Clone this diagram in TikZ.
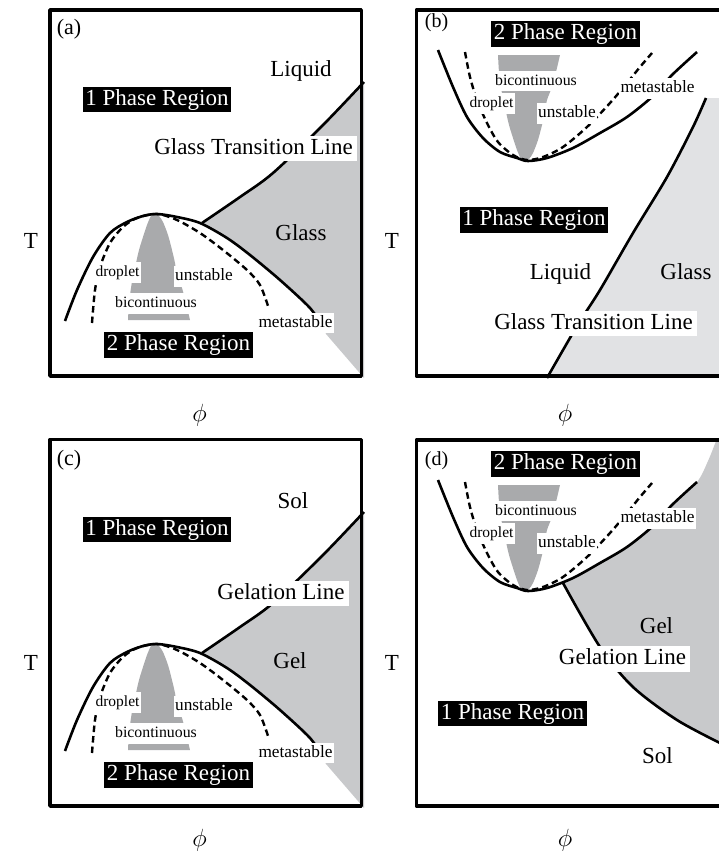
\documentclass[tikz,border=0pt]{standalone}
\usepackage{fontspec}
\setmainfont{Liberation Serif}
\newcommand{\setfs}[1]{\fontsize{#1}{#1}\selectfont}
\definecolor{glassgray}{HTML}{C8C9CB}
\definecolor{lightglass}{HTML}{E1E2E4}
\definecolor{bulletgray}{HTML}{A9AAAC}
\tikzset{
  frame/.style={line width=3.6pt, line join=round},
  curve/.style={line width=2.6pt},
  spin/.style={line width=2.4pt, dash pattern=on 6.5pt off 4pt},
  bigtext/.style={font=\setfs{23}, text height=16.1pt, text depth=5pt, inner sep=0pt},
  blk/.style={bigtext, fill=black, text=white, inner xsep=2.5pt, inner ysep=2pt},
  wbg/.style={bigtext, fill=white, inner xsep=4pt, inner ysep=2pt},
  plain/.style={bigtext, anchor=base},
  lbl/.style={fill=white, anchor=base, inner xsep=1.5pt, inner ysep=2.5pt, text height=12pt, text depth=3.6pt},
  axis/.style={font=\setfs{23}, inner sep=0pt, anchor=base},
}
\newcommand{\bulletfill}{\fill[bulletgray] plot[smooth] coordinates {(-27,107) (-26,90) (-24,75) (-22,63) (-19,50) (-16,37) (-12,24) (-8,12) (-4,3) (0,0) (4,3) (8,9) (13,22) (17,37) (20,50) (22,62) (27,75) (31,90) (35,107)} -- cycle;}
\newcommand{\drawAC}[1]{%
  \fill[glassgray] plot[smooth] coordinates {(202,223) (240,197) (273,173) (323,125) (364,82)} -- (364,378) -- (326,334) -- plot[smooth] coordinates {(322,326) (310,308) (280,280) (250,255) (227,238) (202,223)} -- cycle;
  \begin{scope}[shift={(155,213)}]\bulletfill\end{scope}
  \draw[curve] plot[smooth] coordinates {(65,321) (77,290) (93,257) (110,233) (127,222) (143,216) (157,214) (177,217) (200,223) (227,238) (250,255) (280,280) (310,308) (322,326)};
  \draw[spin] plot[smooth] coordinates {(92,323) (95,290) (100,267) (110,243) (123,227) (137,218) (157,214) (177,220) (200,233) (223,250) (247,270) (260,285) (268,306)};
  \draw[curve] plot[smooth] coordinates {(202,223) (240,197) (273,173) (323,125) (364,82)};
  \node[lbl, font=\setfs{15.5}] (#1drop) at (117.5,276.5) {droplet};
  \node[lbl, font=\setfs{17.3}] (#1unst) at (204,280.5) {unstable};
  \node[lbl, font=\setfs{15.8}] (#1bico) at (156,307.5) {bicontinuous};
  \node[lbl, font=\setfs{17.3}] (#1meta) at (295.5,327) {metastable};
  \node[blk] (#1one) at (157,99.5) {1 Phase Region};
  \node[blk] (#1two) at (178.5,345) {2 Phase Region};
}
\newcommand{\drawBD}[1]{%
  \begin{scope}[shift={(525,162)}, yscale=-1]\bulletfill\end{scope}
  \draw[curve] plot[smooth] coordinates {(438,50) (453,87) (467,117) (483,138) (500,152) (517,158) (528,161) (547,158) (573,148) (600,133) (627,117) (653,96) (672,75) (697,52)};
  \draw[spin] plot[smooth] coordinates {(465,52) (470,77) (477,100) (487,123) (498,142) (513,155) (527,160) (543,157) (563,147) (587,127) (610,103) (627,83) (640,67) (652,53)};
  \node[lbl, font=\setfs{15.8}] (#1bico) at (536,85) {bicontinuous};
  \node[lbl, font=\setfs{15.5}] (#1drop) at (491.5,107.5) {droplet};
  \node[lbl, font=\setfs{17.3}] (#1unst) at (567,117.5) {unstable};
  \node[lbl, font=\setfs{17.3}] (#1meta) at (657.5,92.5) {metastable};
  \node[blk] (#1two) at (565.5,34) {2 Phase Region};
}
\begin{document}
\begin{tikzpicture}[x=1pt,y=-1pt]
\useasboundingbox (0,0) rectangle (719,854);
\clip (0,0) rectangle (719,854);
% ---------- (a)
\drawAC{a}
\node[plain, font=\setfs{22}] (alab) at (69,34) {(a)};
\node[plain] (aliq) at (301,76.5) {Liquid};
\node[plain] (aglass) at (301,240) {Glass};
\node[wbg] (agtl) at (253.5,148.5) {Glass Transition Line};
\draw[frame] (50,10) rectangle (361.3,376);
% ---------- (c)
\begin{scope}[yshift=-430pt]
\drawAC{c}
\end{scope}
\node[plain, font=\setfs{22}] (clab) at (69,465) {(c)};
\node[plain] (csol) at (293,508) {Sol};
\node[plain] (cgel) at (290,668) {Gel};
\node[wbg] (cgl) at (281,593.5) {Gelation Line};
\draw[frame] (50,439.5) rectangle (361.3,806);
% ---------- (b)
\fill[lightglass] plot[smooth] coordinates {(547,378) (577,326) (600,290) (633,233) (667,177) (693,127) (706,98)} -- (730,98) -- (730,378) -- cycle;
\draw[curve] plot[smooth] coordinates {(547,378) (577,326) (600,290) (633,233) (667,177) (693,127) (706,98)};
\drawBD{b}
\node[plain, font=\setfs{20}] (blab) at (436.5,27) {(b)};
\node[blk] (bone) at (534,220) {1 Phase Region};
\node[plain] (bliq) at (560.5,279) {Liquid};
\node[plain] (bglass) at (686,279) {Glass};
\node[wbg] (bgtl) at (593.5,323.5) {Glass Transition Line};
\draw[frame] (416.3,10) rectangle (735,376);
% ---------- (d)
\fill[glassgray] plot[smooth] coordinates {(563,583) (573,578) (600,563) (627,547) (653,526) (672,505) (697,482) (708,461) (716,441)} -- (730,441) -- (730,746) -- plot[smooth] coordinates {(722,744) (677,720) (633,687) (600,647) (563,583)} -- cycle;
\draw[curve] plot[smooth] coordinates {(563,583) (600,647) (633,687) (677,720) (722,744)};
\begin{scope}[yshift=-430pt]
\drawBD{d}
\end{scope}
\node[plain, font=\setfs{20}] (dlab) at (436.5,465) {(d)};
\node[plain] (dgel) at (656.5,633) {Gel};
\node[wbg] (dgl) at (622.5,659) {Gelation Line};
\node[blk] (done) at (512.5,713.5) {1 Phase Region};
\node[plain] (dsol) at (657.5,763) {Sol};
\draw[frame] (416.3,440) rectangle (735,806);
% ---------- axes
\node[axis] (Ta) at (31,248) {T};
\node[axis] (Tb) at (392,248) {T};
\node[axis] (Tc) at (31,670) {T};
\node[axis] (Td) at (392,670) {T};
\node[axis] (pa) at (199.5,421) {$\phi$};
\node[axis] (pb) at (565,421) {$\phi$};
\node[axis] (pc) at (199.5,846) {$\phi$};
\node[axis] (pd) at (565,846) {$\phi$};
\end{tikzpicture}
\end{document}
